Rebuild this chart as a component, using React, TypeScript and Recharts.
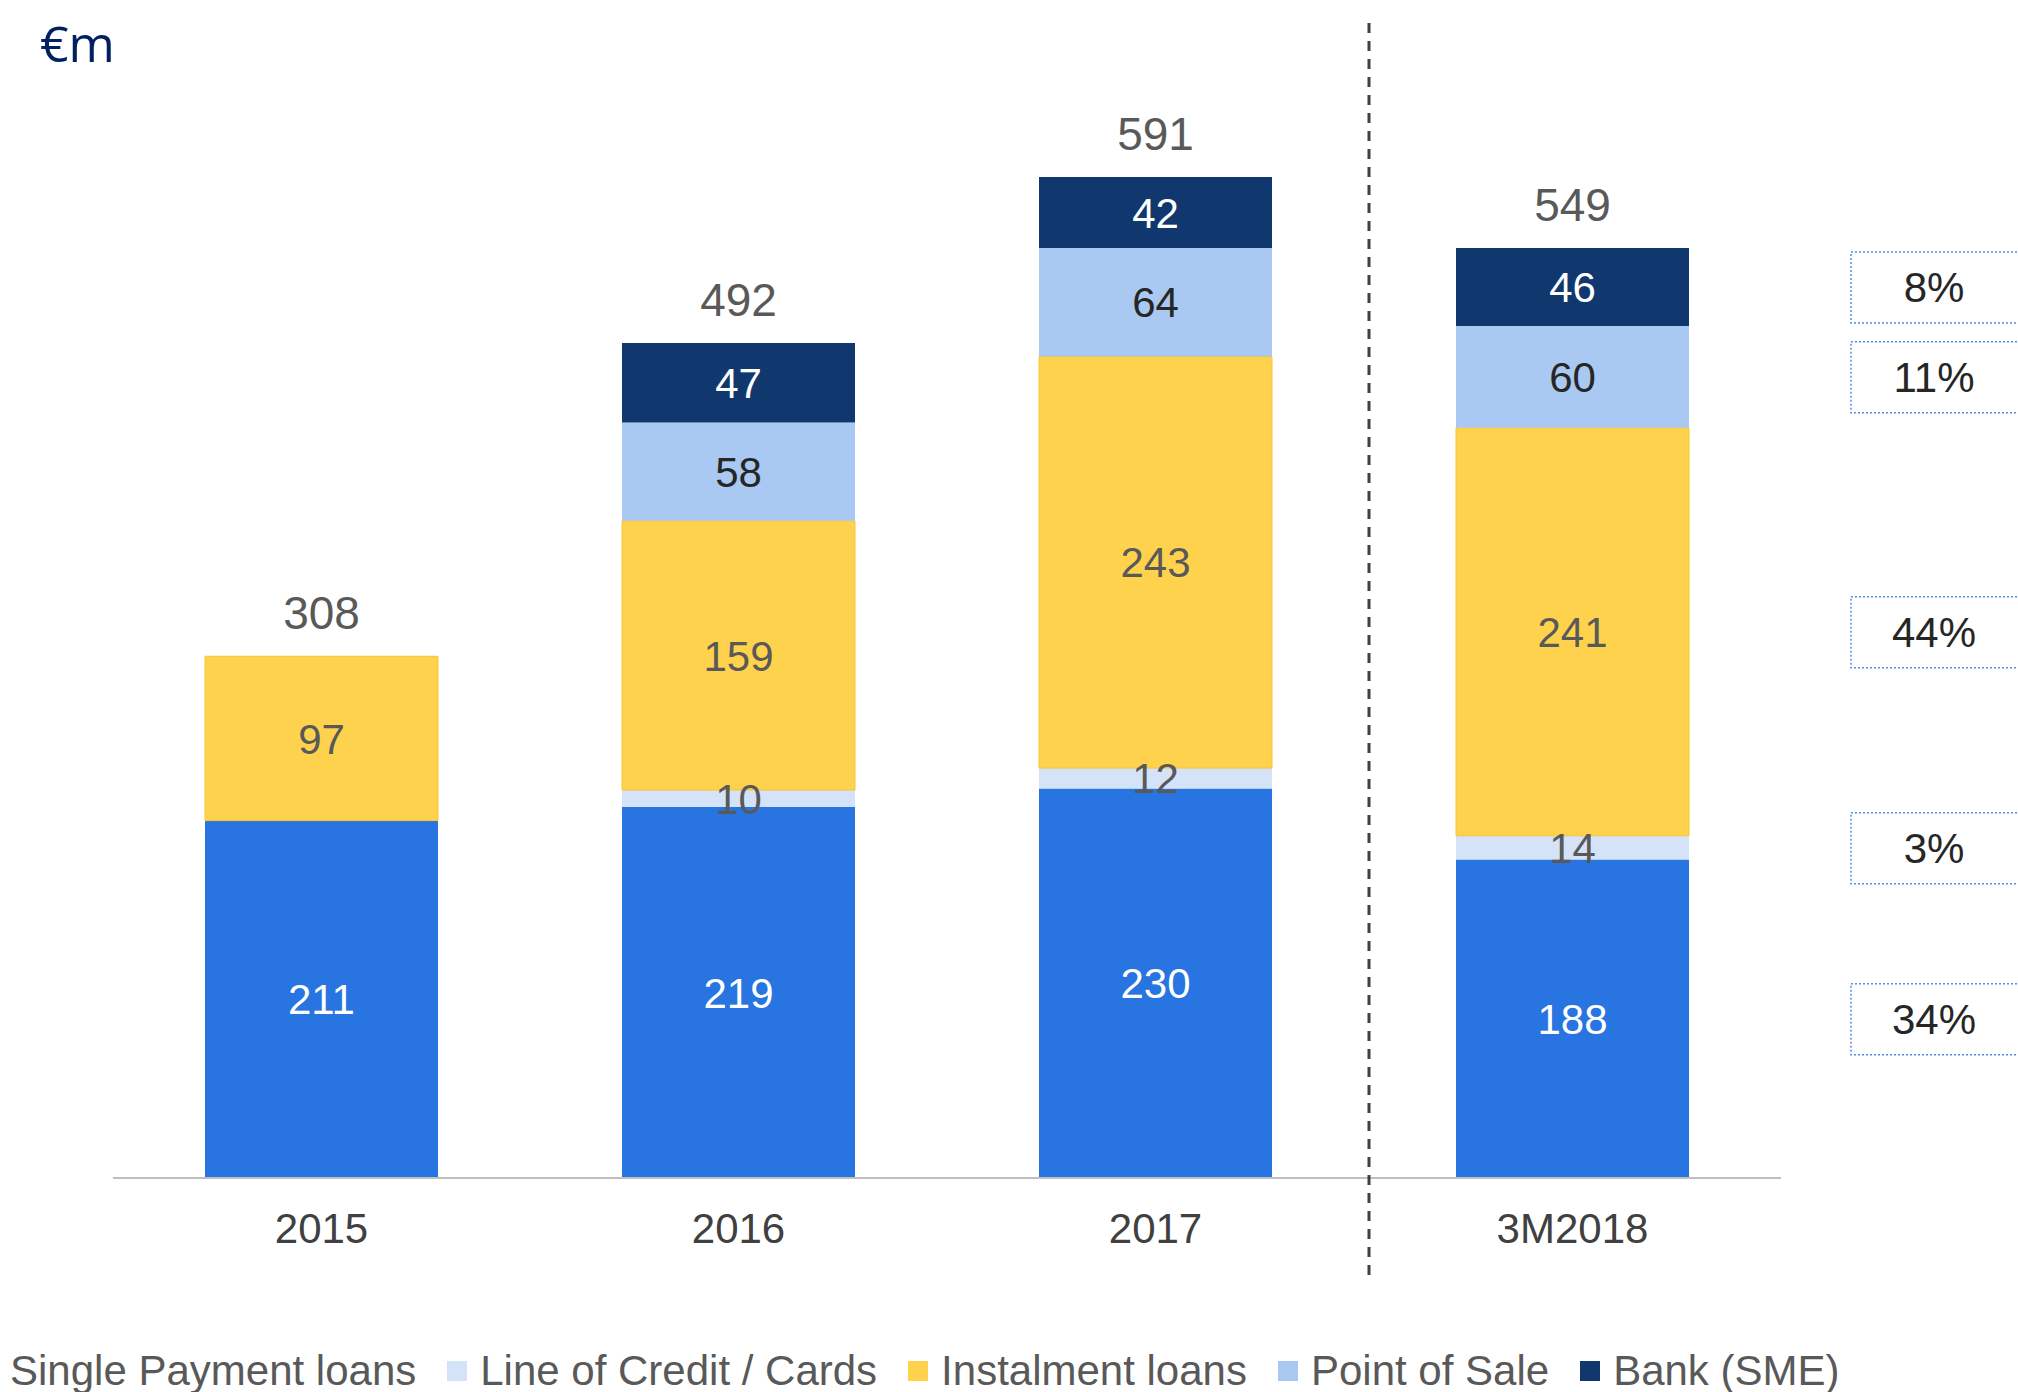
import { Bar, ComposedChart, LabelList, Line, XAxis, YAxis } from "recharts";

const periods = ["2015", "2016", "2017", "3M2018"];
const singlePayment = [211, 219, 230, 188];
const lineOfCredit = [0, 10, 12, 14];
const instalment = [97, 159, 243, 241];
const pointOfSale = [0, 58, 64, 60];
const bankSme = [0, 47, 42, 46];
const totals = [308, 492, 591, 549];
// 3M2018 mix shown in the boxes on the right, bottom segment first
const mixShares = [34, 3, 44, 11, 8];

const series = [
  { key: "single", name: "Single Payment loans", values: singlePayment, fill: "#2874E0", text: "#FFFFFF" },
  { key: "credit", name: "Line of Credit / Cards", values: lineOfCredit, fill: "#D4E3F8", text: "#595959" },
  { key: "instalment", name: "Instalment loans", values: instalment, fill: "#FED24D", text: "#595959", stroke: "#F8C434" },
  { key: "pos", name: "Point of Sale", values: pointOfSale, fill: "#A9C8F2", text: "#262626" },
  { key: "bank", name: "Bank (SME)", values: bankSme, fill: "#10386F", text: "#FFFFFF" },
];

const lastIdx = periods.length - 1;

const data = periods.map((period, i) => {
  const row: Record<string, string | number | undefined> = { period, totalLabel: totals[i] };
  let top = 0;
  series.forEach((s, si) => {
    row[s.key] = s.values[i];
    // share box only for the last period
    row[s.key + "Share"] = i === lastIdx ? mixShares[si] : undefined;
    top += s.values[i];
  });
  row.stackTop = top;
  return row;
});

const FONT = "'Liberation Sans', Arial, sans-serif";

function segmentLabel(color: string) {
  return (props: any) => {
    const { value } = props;
    if (!value) return null;
    const cx = Number(props.x) + Number(props.width) / 2;
    const cy = Number(props.y) + Number(props.height) / 2;
    return (
      <text x={cx} y={cy} dy="0.36em" textAnchor="middle" fill={color} fontSize={42}>
        {value}
      </text>
    );
  };
}

function shareBox(props: any) {
  const { value } = props;
  if (value === undefined || value === null || value === "") return null;
  const x = Number(props.x);
  const width = Number(props.width);
  const cy = Number(props.y) + Number(props.height) / 2;
  const boxX = x + width + 162;
  return (
    <g>
      <rect
        x={boxX}
        y={cy - 35}
        width={175}
        height={71}
        fill="#FFFFFF"
        stroke="#4F8FE6"
        strokeWidth={1.5}
        strokeDasharray="2 2"
      />
      <text x={boxX + 83} y={cy} dy="0.36em" textAnchor="middle" fill="#262626" fontSize={42}>
        {value}%
      </text>
    </g>
  );
}

export default function App() {
  return (
    <div
      style={{
        position: "absolute",
        left: 0,
        top: 0,
        width: 2018,
        height: 1392,
        overflow: "hidden",
        background: "#FFFFFF",
        fontFamily: FONT,
      }}
    >
      <ComposedChart
        width={2018}
        height={1392}
        data={data}
        margin={{ top: 77, right: 237, left: 113, bottom: 154 }}
      >
        <XAxis
          dataKey="period"
          height={60}
          axisLine={{ stroke: "#BFBFBF", strokeWidth: 2 }}
          tickLine={false}
          tickMargin={29}
          tick={{ fill: "#404040", fontSize: 42 }}
        />
        <YAxis hide domain={[0, 650]} />
        {series.map((s) => (
          <Bar
            key={s.key}
            dataKey={s.key}
            name={s.name}
            stackId="loans"
            fill={s.fill}
            stroke={s.stroke}
            strokeWidth={s.stroke ? 1 : 0}
            barSize={233}
            isAnimationActive={false}
          >
            <LabelList dataKey={s.key} content={segmentLabel(s.text)} />
            <LabelList dataKey={s.key + "Share"} content={shareBox} />
          </Bar>
        ))}
        <Line
          dataKey="stackTop"
          stroke="transparent"
          dot={false}
          activeDot={false}
          legendType="none"
          isAnimationActive={false}
        >
          <LabelList dataKey="totalLabel" position="top" offset={27} fill="#595959" fontSize={46} />
        </Line>
      </ComposedChart>

      <svg
        width={2018}
        height={1392}
        style={{ position: "absolute", left: 0, top: 0, pointerEvents: "none" }}
      >
        <text x={40} y={62} fill="#002060" fontSize={50} fontFamily="'Open Sans', sans-serif">
          €m
        </text>
        <line x1={1369} y1={23} x2={1369} y2={1283} stroke="#404040" strokeWidth={3} strokeDasharray="10 8" />
      </svg>

      <div
        style={{
          position: "absolute",
          left: -23,
          top: 1350,
          display: "flex",
          alignItems: "center",
          whiteSpace: "nowrap",
          fontSize: 42,
          lineHeight: "42px",
          color: "#595959",
        }}
      >
        {series.map((s) => (
          <div key={s.key} style={{ display: "flex", alignItems: "center", marginRight: 31 }}>
            <span style={{ display: "inline-block", width: 20, height: 20, background: s.fill, marginRight: 13 }} />
            <span>{s.name}</span>
          </div>
        ))}
      </div>
    </div>
  );
}
